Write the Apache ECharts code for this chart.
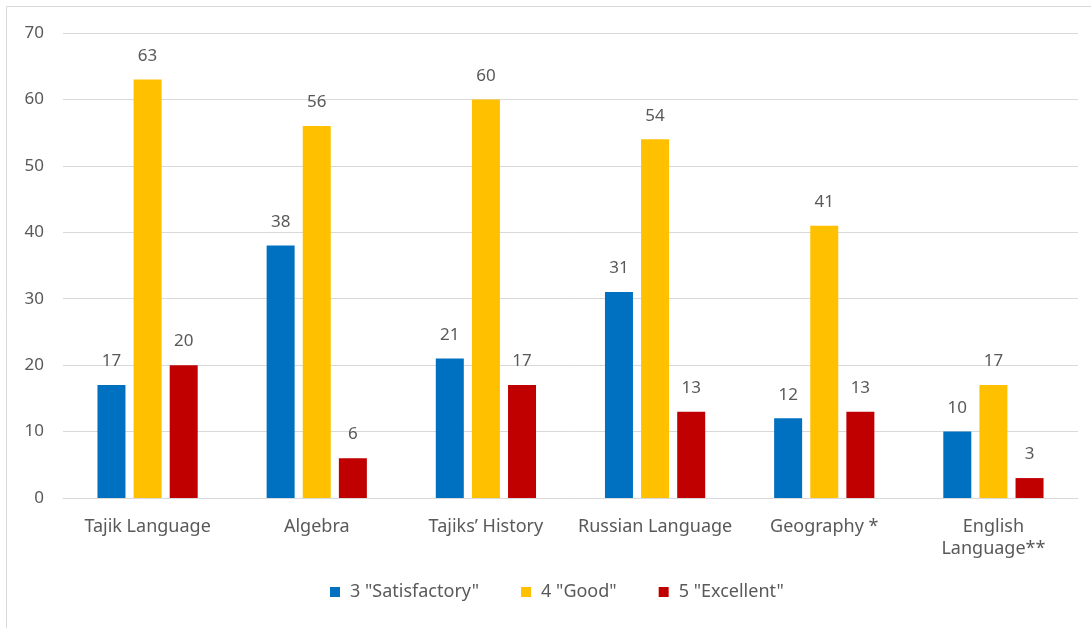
<!DOCTYPE html>
<html>
<head>
<meta charset="utf-8">
<script src="https://cdn.jsdelivr.net/npm/echarts@6/dist/echarts.min.js"></script>
<style>
  html, body { margin: 0; padding: 0; background: #ffffff; }
  #chart { width: 1091px; height: 628px; }
</style>
</head>
<body>
<div id="chart"></div>
<script>
// Subjects on the horizontal axis
const subjects = ['Tajik Language', 'Algebra', 'Tajiks\u2019 History', 'Russian Language', 'Geography *', 'English\nLanguage**'];

// Share of marks per subject
const satisfactory = [17, 38, 21, 31, 12, 10];
const good = [63, 56, 60, 54, 41, 17];
const excellent = [20, 6, 17, 13, 13, 3];

const seriesNames = ['3 "Satisfactory"', '4 "Good"', '5 "Excellent"'];
const seriesColors = ['#0070C0', '#FFC000', '#C00000'];

const fontFamily = '"Noto Sans", "Open Sans", sans-serif';
const textColor = '#595959';

const chart = echarts.init(document.getElementById('chart'), null, { renderer: 'canvas' });

function barSeries(name, data, color) {
  return {
    name: name,
    type: 'bar',
    data: data,
    barWidth: 28,
    barGap: '29%',
    itemStyle: { color: color },
    label: {
      show: true,
      position: 'top',
      distance: 15,
      color: textColor,
      fontFamily: fontFamily,
      fontSize: 17
    },
    emphasis: { disabled: true }
  };
}

chart.setOption({
  animation: false,
  backgroundColor: '#ffffff',
  graphic: [{
    type: 'rect',
    shape: { x: 6.5, y: 6.5, width: 1200, height: 800 },
    style: { fill: 'none', stroke: '#d9d9d9', lineWidth: 1 },
    silent: true,
    z: -1
  }],
  grid: { left: 63, right: 13, top: 33, bottom: 130, containLabel: false },
  legend: {
    data: seriesNames,
    bottom: 22,
    left: 325,
    itemWidth: 10,
    itemHeight: 10,
    itemGap: 42,
    icon: 'rect',
    textStyle: { color: textColor, fontFamily: fontFamily, fontSize: 18, padding: [0, 0, 0, 5] }
  },
  xAxis: {
    type: 'category',
    data: subjects,
    axisLine: { show: true, lineStyle: { color: '#d9d9d9', width: 1 } },
    axisTick: { show: false },
    axisLabel: {
      color: textColor,
      fontFamily: fontFamily,
      fontSize: 18,
      margin: 18,
      lineHeight: 22,
      interval: 0
    }
  },
  yAxis: {
    type: 'value',
    min: 0,
    max: 70,
    interval: 10,
    axisLine: { show: false },
    axisTick: { show: false },
    axisLabel: { color: textColor, fontFamily: fontFamily, fontSize: 17, margin: 19 },
    splitLine: { lineStyle: { color: '#d9d9d9', width: 1 } }
  },
  series: [
    barSeries(seriesNames[0], satisfactory, seriesColors[0]),
    barSeries(seriesNames[1], good, seriesColors[1]),
    barSeries(seriesNames[2], excellent, seriesColors[2])
  ]
});
</script>
</body>
</html>
